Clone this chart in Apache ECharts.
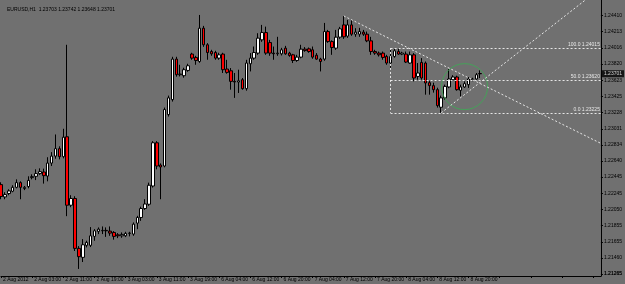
<!DOCTYPE html>
<html>
<head>
<meta charset="utf-8">
<style>
  html, body { margin: 0; padding: 0; background: #707070; }
  #chart { width: 625px; height: 284px; }
</style>
<script src="https://cdn.jsdelivr.net/npm/echarts@6/dist/echarts.min.js"></script>
</head>
<body>
<div id="chart"></div>
<script>
// EURUSD H1, 2 - 8 Aug 2012 (one value per bar)
const opens = [
  1.22352, 1.22202, 1.22243, 1.22271, 1.22319, 1.22376, 1.22304, 1.22328, 1.22437, 1.22453,
  1.22486, 1.22505, 1.22456, 1.22614, 1.22699, 1.22789, 1.22692, 1.22934, 1.22101, 1.22183,
  1.21576, 1.21467, 1.21613, 1.21613, 1.21722, 1.21783, 1.21790, 1.21795, 1.21786, 1.21770,
  1.21741, 1.21729, 1.21729, 1.21758, 1.21750, 1.21883, 1.21952, 1.22061, 1.22113, 1.22335,
  1.22861, 1.22590, 1.22578, 1.23204, 1.23386, 1.23879, 1.23689, 1.23677, 1.23741, 1.23940,
  1.23899, 1.23850, 1.24255, 1.24053, 1.23971, 1.23959, 1.23891, 1.23940, 1.23758, 1.23737,
  1.23608, 1.23600, 1.23628, 1.23519, 1.23822, 1.23891, 1.23952, 1.24113, 1.24202, 1.24080,
  1.23952, 1.23944, 1.23943, 1.24012, 1.23952, 1.23931, 1.23862, 1.23903, 1.24000, 1.24004,
  1.23992, 1.23926, 1.23879, 1.23879, 1.24214, 1.24092, 1.24012, 1.24146, 1.24295, 1.24158,
  1.24295, 1.24182, 1.24182, 1.24207, 1.24182, 1.24101, 1.23971, 1.23952, 1.23952, 1.23911,
  1.23831, 1.23911, 1.23971, 1.23940, 1.23940, 1.23831, 1.23931, 1.23668, 1.23838, 1.23831,
  1.23592, 1.23556, 1.23507, 1.23293, 1.23407, 1.23540, 1.23628, 1.23661, 1.23499, 1.23540,
  1.23568, 1.23628, 1.23637, 1.23703
];
const closes = [
  1.22207, 1.22231, 1.22275, 1.22319, 1.22376, 1.22319, 1.22319, 1.22403, 1.22449, 1.22486,
  1.22510, 1.22461, 1.22614, 1.22699, 1.22789, 1.22692, 1.22929, 1.22101, 1.22183, 1.21576,
  1.21475, 1.21620, 1.21649, 1.21729, 1.21790, 1.21810, 1.21795, 1.21790, 1.21762, 1.21722,
  1.21729, 1.21746, 1.21758, 1.21762, 1.21871, 1.21952, 1.22061, 1.22116, 1.22344, 1.22861,
  1.22578, 1.22566, 1.23265, 1.23407, 1.23879, 1.23689, 1.23697, 1.23750, 1.23798, 1.23891,
  1.23862, 1.24255, 1.24053, 1.23959, 1.23943, 1.23891, 1.23931, 1.23750, 1.23717, 1.23608,
  1.23600, 1.23615, 1.23519, 1.23831, 1.23891, 1.23959, 1.24134, 1.24202, 1.23952, 1.23952,
  1.23944, 1.23952, 1.23992, 1.23943, 1.23923, 1.23862, 1.23903, 1.24000, 1.23983, 1.23971,
  1.23903, 1.23879, 1.23850, 1.24214, 1.24092, 1.24020, 1.24146, 1.24247, 1.24150, 1.24295,
  1.24182, 1.24207, 1.24214, 1.24182, 1.24101, 1.23971, 1.23952, 1.23931, 1.23899, 1.23831,
  1.23911, 1.23980, 1.23940, 1.23952, 1.23843, 1.23931, 1.23649, 1.23710, 1.23649, 1.23588,
  1.23556, 1.23507, 1.23313, 1.23407, 1.23547, 1.23637, 1.23661, 1.23507, 1.23540, 1.23580,
  1.23637, 1.23637, 1.23689, 1.23701
];
const lows = [
  1.22174, 1.22174, 1.22223, 1.22259, 1.22307, 1.22174, 1.22285, 1.22307, 1.22416, 1.22407,
  1.22470, 1.22364, 1.22392, 1.22578, 1.22667, 1.22659, 1.22671, 1.21968, 1.22077, 1.21544,
  1.21326, 1.21410, 1.21588, 1.21592, 1.21669, 1.21750, 1.21750, 1.21716, 1.21729, 1.21682,
  1.21701, 1.21705, 1.21713, 1.21722, 1.21729, 1.21810, 1.21911, 1.22044, 1.22093, 1.22316,
  1.22538, 1.22174, 1.22562, 1.23180, 1.23362, 1.23665, 1.23668, 1.23653, 1.23725, 1.23871,
  1.23810, 1.23834, 1.24028, 1.23871, 1.23919, 1.23871, 1.23871, 1.23710, 1.23701, 1.23507,
  1.23407, 1.23467, 1.23507, 1.23495, 1.23729, 1.23871, 1.23931, 1.24089, 1.23931, 1.23919,
  1.23871, 1.23919, 1.23923, 1.23931, 1.23907, 1.23831, 1.23846, 1.23889, 1.23968, 1.23956,
  1.23883, 1.23871, 1.23729, 1.23859, 1.24077, 1.23931, 1.23992, 1.24125, 1.24125, 1.24137,
  1.24162, 1.24150, 1.24150, 1.24162, 1.24085, 1.23931, 1.23931, 1.23910, 1.23871, 1.23810,
  1.23750, 1.23895, 1.23931, 1.23927, 1.23831, 1.23822, 1.23608, 1.23628, 1.23628, 1.23446,
  1.23446, 1.23471, 1.23289, 1.23225, 1.23386, 1.23525, 1.23616, 1.23495, 1.23426, 1.23528,
  1.23528, 1.23610, 1.23628, 1.23648
];
const highs = [
  1.22380, 1.22259, 1.22295, 1.22344, 1.22416, 1.22392, 1.22335, 1.22453, 1.22477, 1.22538,
  1.22550, 1.22546, 1.22685, 1.22747, 1.22962, 1.22818, 1.23031, 1.24053, 1.22223, 1.22210,
  1.21604, 1.21689, 1.21669, 1.21835, 1.21810, 1.21831, 1.21843, 1.21831, 1.21843, 1.21786,
  1.21762, 1.21770, 1.21778, 1.21778, 1.21892, 1.21972, 1.22084, 1.22174, 1.22376, 1.22881,
  1.22881, 1.22610, 1.23289, 1.23435, 1.23907, 1.23907, 1.23810, 1.23774, 1.23822, 1.23956,
  1.23919, 1.24416, 1.24283, 1.24073, 1.23992, 1.23980, 1.23956, 1.23956, 1.23870, 1.23770,
  1.23710, 1.23750, 1.23649, 1.23870, 1.23952, 1.24032, 1.24194, 1.24295, 1.24274, 1.24113,
  1.24032, 1.24150, 1.24016, 1.24040, 1.23968, 1.23943, 1.23931, 1.24053, 1.24025, 1.24020,
  1.24032, 1.23952, 1.23895, 1.24319, 1.24234, 1.24107, 1.24234, 1.24271, 1.24404, 1.24356,
  1.24356, 1.24255, 1.24259, 1.24234, 1.24214, 1.24150, 1.23992, 1.23971, 1.23971, 1.23931,
  1.24015, 1.24004, 1.24012, 1.23968, 1.23971, 1.23971, 1.23952, 1.23831, 1.23891, 1.23850,
  1.23616, 1.23592, 1.23531, 1.23435, 1.23568, 1.23758, 1.23683, 1.23677, 1.23568, 1.23608,
  1.23661, 1.23652, 1.23710, 1.23742
];

// tick labels
const timeLabels = [
  '2 Aug 2012', '2 Aug 03:00', '2 Aug 11:00', '2 Aug 19:00', '3 Aug 03:00', '3 Aug 11:00',
  '3 Aug 19:00', '6 Aug 04:00', '6 Aug 12:00', '6 Aug 20:00', '7 Aug 04:00', '7 Aug 12:00',
  '7 Aug 20:00', '8 Aug 04:00', '8 Aug 12:00', '8 Aug 20:00'
];
const priceTicks = [
  1.21265, 1.21460, 1.21655, 1.21855, 1.22050, 1.22245, 1.22445, 1.22640, 1.22834,
  1.23031, 1.23228, 1.23425, 1.23623, 1.23820, 1.24016, 1.24213, 1.24410
];

// drawings: trend lines [barIndex, price], fibo levels, ellipse
const trendDown = [[88, 1.24404], [154, 1.22853]];
const trendUp = [[113, 1.23225], [150, 1.24598]];
const fibStart = 100;
const fibLevels = [1.24015, 1.23620, 1.23225];
const fibNames = ['100.0', '50.0', '0.0'];
const ellipseCenter = [118.6, 1.23544];
const lastPrice = 1.23701;

const barCount = 155;   // bars visible incl. the empty shift on the right
const yMin = 1.21240;
const yMax = 1.24598;

const smallFont = 'Liberation Sans';

document.addEventListener('DOMContentLoaded', function () {
    const chart = echarts.init(document.getElementById('chart'));

    const categories = Array.from({ length: barCount }, (_, i) => String(i));
    const candles = opens.map((o, i) => [o, closes[i], lows[i], highs[i]]);
    const lastIdx = barCount - 1;

    // fibo lines + vertical edge
    const fibLines = fibLevels.map((lv, k) => {
        const label = {
            show: true, position: 'insideEndTop', distance: 1,
            formatter: fibNames[k] + ' ' + lv.toFixed(5),
            color: '#e8e8e8', fontSize: 5, fontFamily: smallFont
        };
        return [
            { coord: [fibStart, lv], label: label },
            { coord: [lastIdx, lv], label: label }
        ];
    });
    fibLines.push([
        { coord: [fibStart, fibLevels[0]], label: { show: false } },
        { coord: [fibStart, fibLevels[fibLevels.length - 1]], label: { show: false } }
    ]);

    const dotted = { type: [2, 2], color: '#e6e6e6', width: 1 };

    chart.setOption({
        backgroundColor: '#707070',
        animation: false,
        title: {
            text: 'EURUSD,H1  1.23703 1.23742 1.23648 1.23701',
            left: 2, top: 2,
            textStyle: { fontSize: 5, fontWeight: 'normal', color: '#000', fontFamily: smallFont }
        },
        grid: { left: 0, right: 20, top: 0, bottom: 8 },
        xAxis: {
            type: 'category',
            data: categories,
            boundaryGap: false,
            axisLine: { lineStyle: { color: '#000', width: 1 } },
            axisTick: { interval: 7, length: 2, lineStyle: { color: '#000' } },
            axisLabel: {
                interval: 7,
                formatter: (v, idx) => timeLabels[idx / 8] || '',
                align: 'left', margin: 1, padding: [0, 0, 0, 2],
                fontSize: 5, color: '#000', fontFamily: smallFont
            },
            splitLine: { show: false }
        },
        yAxis: {
            type: 'value',
            position: 'right',
            min: yMin, max: yMax,
            axisLine: { show: true, lineStyle: { color: '#000', width: 1 } },
            axisTick: { show: true, length: 2, customValues: priceTicks, lineStyle: { color: '#000' } },
            axisLabel: {
                customValues: priceTicks,
                showMinLabel: true,
                showMaxLabel: true,
                hideOverlap: false,
                formatter: v => v.toFixed(5),
                margin: 3, fontSize: 5, color: '#000', fontFamily: smallFont
            },
            splitLine: { show: false }
        },
        series: [
            {
                type: 'candlestick',
                data: candles,
                barWidth: 3,
                itemStyle: {
                    color: '#ffffff', color0: '#ff0000',
                    borderColor: '#000000', borderColor0: '#000000', borderWidth: 1
                },
                markLine: {
                    silent: true,
                    symbol: ['none', 'none'],
                    lineStyle: dotted,
                    data: fibLines
                }
            },
            {
                type: 'line', data: trendDown, symbol: 'none', silent: true,
                lineStyle: dotted
            },
            {
                type: 'line', data: trendUp, symbol: 'none', silent: true,
                lineStyle: dotted
            },
            {
                type: 'scatter', data: [ellipseCenter], symbol: 'circle', symbolSize: 46, silent: true,
                itemStyle: { color: 'rgba(0,0,0,0)', borderColor: '#3aae52', borderWidth: 1 }
            },
            {
                // current price tag on the price scale
                type: 'scatter', data: [[lastIdx, lastPrice]], symbolSize: 0, silent: true, clip: false,
                label: {
                    show: true, position: 'right', distance: 1,
                    formatter: lastPrice.toFixed(5),
                    backgroundColor: '#000', color: '#fff', padding: [1, 2],
                    fontSize: 5, fontFamily: smallFont
                }
            },
            {
                // lowest price-scale label, which the axis drops next to the time scale
                type: 'scatter', data: [[lastIdx, priceTicks[0]]], symbolSize: 0, silent: true, clip: false,
                label: {
                    show: true, position: 'right', distance: 3,
                    formatter: priceTicks[0].toFixed(5),
                    color: '#000', fontSize: 5, fontFamily: smallFont
                }
            }
        ]
    });

    window.addEventListener('resize', function () {
        chart.resize();
    });
});
</script>
</body>
</html>
